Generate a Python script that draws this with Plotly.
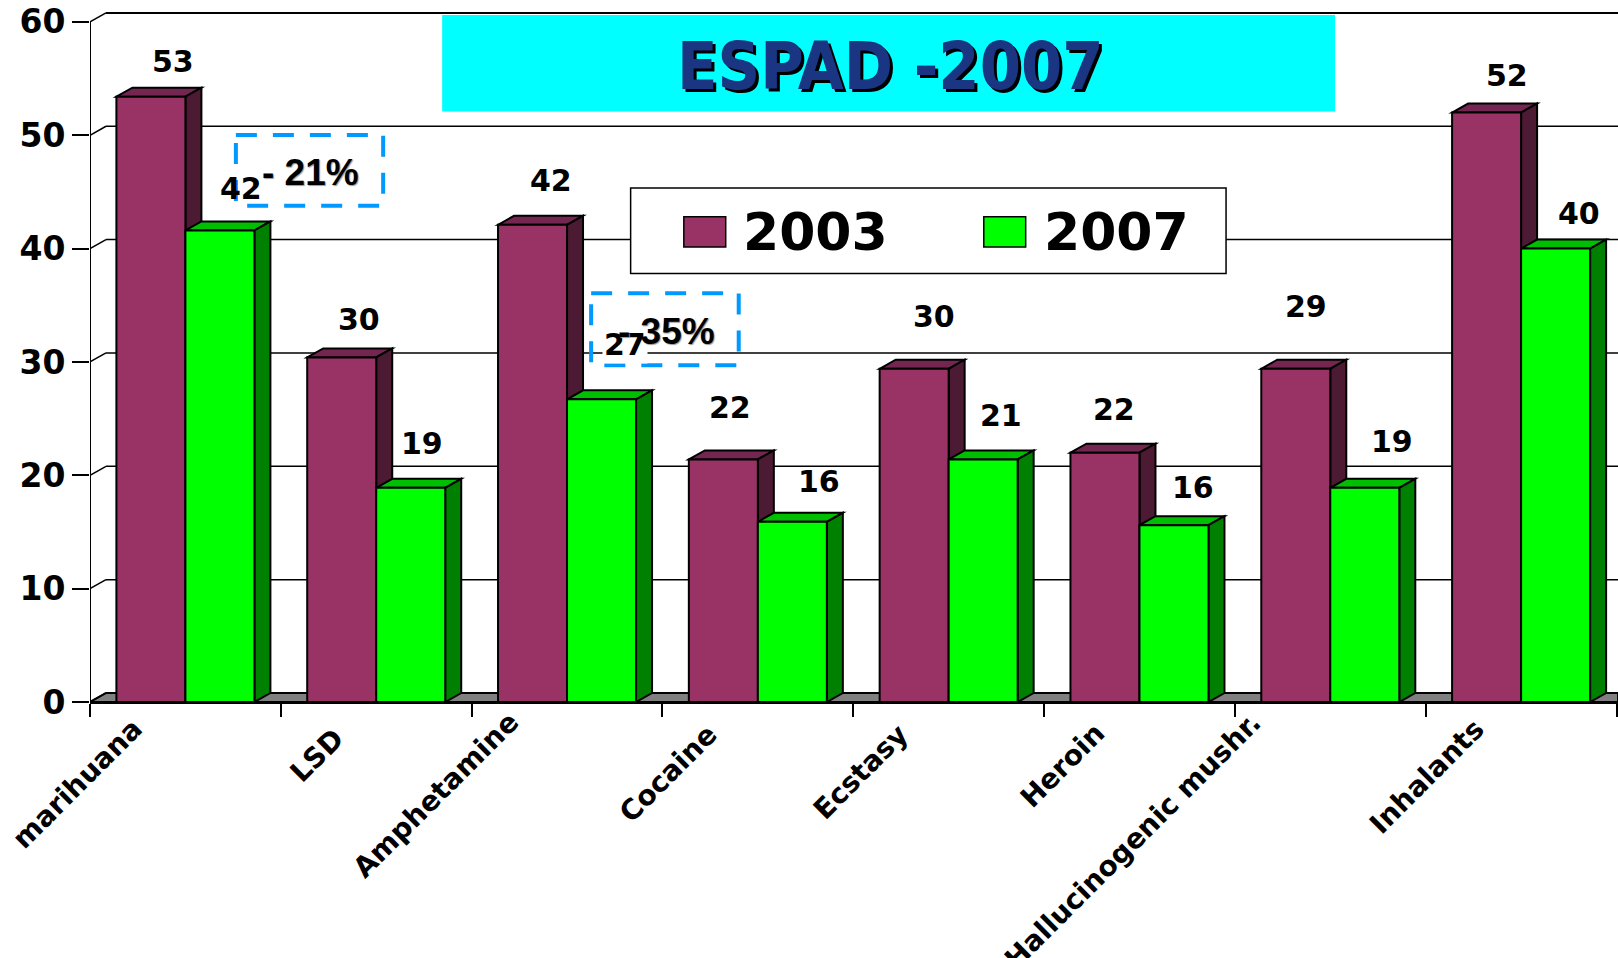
import plotly.graph_objects as go

categories = ["marihuana", "LSD", "Amphetamine", "Cocaine", "Ecstasy", "Heroin", "Hallucinogenic mushr.", "Inhalants"]
values_2003 = [53.4, 30.4, 42.1, 21.4, 29.4, 22.0, 29.4, 52.0]
values_2007 = [41.6, 18.9, 26.7, 15.9, 21.4, 15.6, 18.9, 40.0]
labels_2003 = ["53", "30", "42", "22", "30", "22", "29", "52"]
labels_2007 = ["42", "19", "27", "16", "21", "16", "19", "40"]
y_ticks = [0, 10, 20, 30, 40, 50, 60]

# label offsets from the bar-top centre, in pixels
shift_x_2003 = [21.6, 17.6, 18.7, 6.5, 20, 8.7, 9.9, 20.3]
shift_y_2003 = [34.8, 38.4, 44.1, 51.6, 51.8, 42.7, 62.1, 37.2]
shift_x_2007 = [20.7, 11.5, 23, 26.2, 18.1, 19.2, 27.5, 23.5]
shift_y_2007 = [41.6, 43.9, 54.5, 40.7, 44.4, 38, 45.9, 34.9]
# category label offsets from the category centre, in pixels
shift_x_cat = [-33.4, -23.5, -38.4, -31.5, -30.5, -25.4, -59.5, -27.4]
shift_y_cat = [-7.6, -17, -0.4, -12.8, -12.8, -11.7, -1.4, -7.6]

W, H = 1618, 958
L, T, B = 89.8, 0, 256.3
R = 0
PX_PER_CAT = 190.8
PX_PER_UNIT = 11.33
BAR = 69.0 / PX_PER_CAT
DX = 16.0 / PX_PER_CAT
DY = 9.0 / PX_PER_UNIT
X0, X1 = -0.5, 7.5 + 1.5 / PX_PER_CAT
Y1 = (H - T - B) / PX_PER_UNIT

MAROON, MAROON_TOP, MAROON_SIDE = "#993366", "#732650", "#4d1a33"
GREEN, GREEN_TOP, GREEN_SIDE = "#00ff00", "#00bf00", "#008000"
EDGE = dict(color="black", width=2)
FONT = "DejaVu Sans"


def px(x):
    return (x - L) / (W - L - R)


def py(y):
    return 1 - (y - T) / (H - T - B)


shapes = []


def poly(points, fill, line=EDGE, layer="below"):
    d = "M" + " L".join(f"{a},{b}" for a, b in points) + " Z"
    shapes.append(dict(type="path", path=d, xref="x", yref="y", fillcolor=fill, line=line, layer=layer))


def seg(x0, y0, x1, y1, width=1.5):
    shapes.append(dict(type="line", x0=x0, y0=y0, x1=x1, y1=y1, xref="x", yref="y",
                       line=dict(color="black", width=width), layer="below"))


# floor and back wall
poly([(X0, 0), (X0 + DX, DY), (X1, DY), (X1, 0)], "#808080")
for t in y_ticks:
    seg(X0, t, X0 + DX, t + DY)
    seg(X0 + DX, t + DY, X1, t + DY, 2 if t == 60 else 1.5)
seg(X0, 0, X0, 60, 2)


def block(left, right, v, top, side):
    poly([(left, v), (left + DX, v + DY), (right + DX, v + DY), (right, v)], top)
    poly([(right, 0), (right + DX, DY), (right + DX, v + DY), (right, v)], side)


for i in range(len(categories)):
    block(i - BAR, i, values_2003[i], MAROON_TOP, MAROON_SIDE)
for i in range(len(categories)):
    block(i, i + BAR, values_2007[i], GREEN_TOP, GREEN_SIDE)


def rect_px(x0, y0, x1, y1, fill=None, line=None):
    s = dict(type="rect", xref="paper", yref="paper", x0=px(x0), x1=px(x1), y0=py(y0), y1=py(y1),
             layer="above", line=line or dict(width=0))
    if fill:
        s["fillcolor"] = fill
    shapes.append(s)


# title banner, legend box, callout boxes
rect_px(442, 15, 1335, 111.5, "#00ffff")
rect_px(630.5, 188, 1226, 273.5, "white", dict(color="black", width=1.5))
rect_px(683.7, 216.7, 725.6, 247, MAROON, dict(color="black", width=1.5))
rect_px(983.7, 216.7, 1025.6, 247, GREEN, dict(color="black", width=1.5))
DASHED = dict(color="#0099ff", width=4, dash="21px,16px")
rect_px(235.7, 135, 383, 205.7, None, DASHED)
rect_px(591, 293, 738.6, 365, None, DASHED)

annotations = []


def text_px(x, y, s, size, color="black", family=FONT, shadow=None):
    f = dict(family=family, size=size, color=color, weight="bold")
    if shadow:
        f["shadow"] = shadow
    annotations.append(dict(xref="paper", yref="paper", x=px(x), y=py(y), text=s, showarrow=False,
                            xanchor="center", yanchor="middle", font=f))


for i in range(len(categories)):
    annotations.append(dict(xref="x", yref="y", x=i, y=0, text=categories[i], showarrow=False,
                            textangle=-45, xanchor="right", yanchor="top",
                            xshift=shift_x_cat[i], yshift=shift_y_cat[i],
                            font=dict(family=FONT, size=28, color="black", weight="bold")))
    annotations.append(dict(xref="x", yref="y", x=i - BAR / 2, y=values_2003[i], text=labels_2003[i],
                            showarrow=False, xanchor="center", yanchor="middle",
                            xshift=shift_x_2003[i], yshift=shift_y_2003[i],
                            font=dict(family=FONT, size=30, color="black", weight="bold")))
    annotations.append(dict(xref="x", yref="y", x=i + BAR / 2, y=values_2007[i], text=labels_2007[i],
                            showarrow=False, xanchor="center", yanchor="middle",
                            xshift=shift_x_2007[i], yshift=shift_y_2007[i],
                            bgcolor="white" if labels_2007[i] == "27" else None,
                            font=dict(family=FONT, size=30, color="black", weight="bold")))

text_px(890, 66, "ESPAD -2007", 66, "#1a3582", "DejaVu Sans Condensed", "3px 3px 0 black")
text_px(815, 232, "2003", 52)
text_px(1116, 232, "2007", 52)
text_px(310, 172, "- 21%", 37, family="Liberation Sans", shadow="1px 1px 1px #999999")
text_px(666, 331, "- 35%", 37, family="Liberation Sans", shadow="1px 1px 1px #999999")

fig = go.Figure()
fig.add_bar(x=categories, y=values_2003, name="2003", marker=dict(color=MAROON, line=EDGE))
fig.add_bar(x=categories, y=values_2007, name="2007", marker=dict(color=GREEN, line=EDGE))

fig.update_layout(
    width=W, height=H, margin=dict(l=L, r=R, t=T, b=B, pad=0, autoexpand=False),
    paper_bgcolor="white", plot_bgcolor="white", showlegend=False,
    barmode="group", bargap=1 - 2 * BAR, bargroupgap=0,
    shapes=shapes, annotations=annotations,
    xaxis=dict(type="category", range=[X0, X1], tickson="boundaries", ticks="outside", ticklen=13,
               tickwidth=1.5, tickcolor="black", showline=True, linecolor="black", linewidth=2,
               showgrid=False, zeroline=False, showticklabels=False),
    yaxis=dict(range=[0, Y1], tickvals=y_ticks, ticks="outside", ticklen=17, tickwidth=1.5, tickcolor="black",
               showline=False, showgrid=False, zeroline=False,
               tickfont=dict(family=FONT, size=33, color="black", weight="bold")),
)
fig.write_html("out.html", config=dict(displayModeBar=False),
               post_script="document.body.style.margin='0';document.documentElement.style.overflow='hidden';")
